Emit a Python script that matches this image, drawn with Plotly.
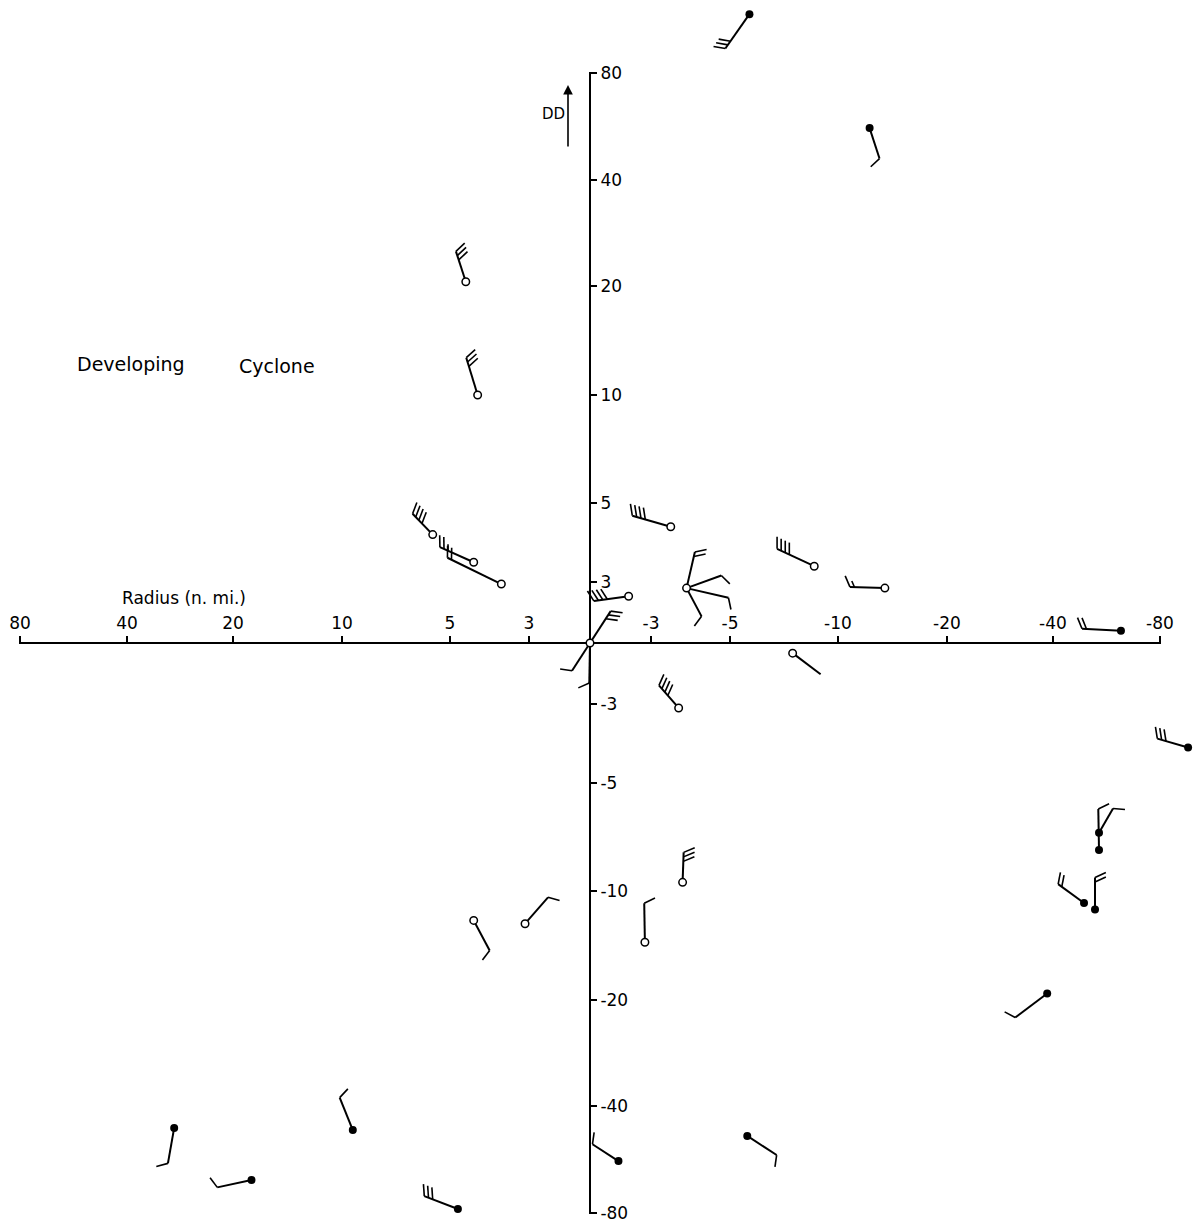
import numpy as np
import plotly.graph_objects as go

# ---------------- scale (stretched, symmetric) ----------------
scale_values = [0, 3, 5, 10, 20, 40, 80]
scale_offsets = [0, 61, 140, 248, 357, 463, 570]

tick_values = [80, 40, 20, 10, 5, 3, -3, -5, -10, -20, -40, -80]
tick_labels = ["80", "40", "20", "10", "5", "3", "-3", "-5", "-10", "-20", "-40", "-80"]

# ---------------- stations ----------------
station_radius = [-5.9, -12.9, 4.6, 4.3, 5.8, 4.4, 3.7, -1.9, 0.0, -3.5, -3.9, -8.9, -14.3,
                  -65.4, -90.5, -57.2, -57.2, -51.6, -55.7, -38.9,
                  4.4, 3.1, -2.7, -3.8, 31.1, 18.3, 9.5, 4.8, -1.4, -5.8, -7.9, -3.7]
station_dd = [102, 59.4, 20.8, 10.0, 4.2, 3.5, 2.9, 2.3, 0.0, 4.4, 2.7, 3.4, 2.7,
              0.6, -4.1, -8.1, -7.3, -11.1, -11.7, -19.4,
              -12.7, -13.0, -14.7, -9.6, -48.2, -67.7, -49.0, -78.5, -60.6, -51.2, -0.5, -3.1]
station_kind = ["filled", "filled", "open", "open", "open", "open", "open", "open", "open",
                "open", "open", "open", "open",
                "filled", "filled", "filled", "filled", "filled", "filled", "filled",
                "open", "open", "open", "open", "filled", "filled", "filled", "filled",
                "filled", "filled", "open", "open"]

# ---------------- winds (one entry per shaft) ----------------
wind_station = [0, 1, 2, 3, 4, 5, 6, 7, 8, 8, 8, 9, 10, 10, 10, 10, 11, 12,
                13, 14, 15, 16, 17, 18, 19, 20, 21, 22, 23, 24, 25, 26, 27, 28, 29, 30, 31]
wind_dir = [215, 162, 342, 343, 316, 294, 296, 262, 33, 213, 181, 286, 13, 70, 103, 152, 295, 272,
            273, 286, 359, 30, 306, 0, 233, 152, 41, 359, 2, 190, 258, 338, 291, 303, 123, 127, 319]
wind_speed = [30, 10, 30, 30, 40, 25, 20, 40, 30, 10, 10, 40, 20, 10, 10, 10, 40, 15,
              20, 30, 10, 10, 20, 20, 10, 10, 10, 10, 30, 10, 10, 10, 30, 10, 10, 0, 40]
shaft_length = [42, 32, 32, 39, 29, 37, 60, 35, 38, 33, 40, 40, 37, 37, 43, 32, 41, 35,
                39, 32, 41, 28, 32, 32, 40, 34, 35, 39, 30, 36, 35, 35, 36, 31, 35, 35, 30]


def to_plot(v):
    a = abs(v)
    if a <= scale_values[-1]:
        d = np.interp(a, scale_values, scale_offsets)
    else:
        d = scale_offsets[-1] + (a - scale_values[-1]) * (scale_offsets[-1] - scale_offsets[-2]) / (scale_values[-1] - scale_values[-2])
    return float(np.sign(v) * d)


W, H = 1201, 1226
ox, oy = 590, 643          # origin inside the figure
half = scale_offsets[-1] + 1

su = [to_plot(r) for r in station_radius]
sv = [to_plot(d) for d in station_dd]

BARB_LEN = 12.0
BARB_GAP = 4.5
TILT = np.radians(25)

shaft_x, shaft_y, barb_x, barb_y = [], [], [], []
for st, th, spd, L in zip(wind_station, wind_dir, wind_speed, shaft_length):
    u0, v0 = su[st], sv[st]
    t = np.radians(th)
    dx, dy = np.sin(t), -np.cos(t)          # screen direction (x right, y down)
    tu, tv = u0 - L * dx, v0 - L * dy       # plot units: u to the left, v upward
    shaft_x += [u0, tu, None]
    shaft_y += [v0, tv, None]
    px, py = np.cos(t), np.sin(t)
    bx = np.cos(TILT) * px + np.sin(TILT) * dx
    by = np.cos(TILT) * py + np.sin(TILT) * dy
    full = int(spd // 10)
    halfb = (spd % 10) >= 5
    n = full + (1 if halfb else 0)
    for i in range(n):
        ln = BARB_LEN if i < full else BARB_LEN * 0.55
        s = L - i * BARB_GAP
        su0 = u0 - s * dx
        sv0 = v0 - s * dy
        barb_x += [su0, su0 - ln * bx, None]
        barb_y += [sv0, sv0 - ln * by, None]

fig = go.Figure()

fig.add_trace(go.Scatter(x=[0], y=[0], xaxis="x", yaxis="y", mode="markers",
                         marker=dict(opacity=0), hoverinfo="skip", showlegend=False))
fig.add_trace(go.Scatter(x=shaft_x, y=shaft_y, xaxis="x2", yaxis="y2", mode="lines",
                         line=dict(color="black", width=2), hoverinfo="skip", showlegend=False))
fig.add_trace(go.Scatter(x=barb_x, y=barb_y, xaxis="x2", yaxis="y2", mode="lines",
                         line=dict(color="black", width=1.6), hoverinfo="skip", showlegend=False))

op = [i for i, k in enumerate(station_kind) if k == "open"]
fl = [i for i, k in enumerate(station_kind) if k == "filled"]
fig.add_trace(go.Scatter(x=[su[i] for i in op], y=[sv[i] for i in op], xaxis="x2", yaxis="y2",
                         mode="markers", cliponaxis=False,
                         marker=dict(symbol="circle", size=7.5, color="white",
                                     line=dict(color="black", width=1.5)),
                         hoverinfo="skip", showlegend=False))
fig.add_trace(go.Scatter(x=[su[i] for i in fl], y=[sv[i] for i in fl], xaxis="x2", yaxis="y2",
                         mode="markers", cliponaxis=False,
                         marker=dict(symbol="circle", size=8, color="black"),
                         hoverinfo="skip", showlegend=False))

FONT = "DejaVu Sans"
axis_common = dict(showgrid=False, zeroline=False, showline=True, linecolor="black", linewidth=2,
                   ticks="outside", ticklen=6, tickwidth=1.5, tickcolor="black", automargin=False,
                   ticklabeloverflow="allow",
                   tickfont=dict(family=FONT, size=17, color="black"), fixedrange=True)

fig.update_layout(
    width=W, height=H, autosize=False,
    margin=dict(l=0, r=0, t=0, b=0, pad=0, autoexpand=False),
    paper_bgcolor="white", plot_bgcolor="rgba(0,0,0,0)",
    xaxis=dict(domain=[(ox - half) / W, (ox + half) / W], range=[half, -half],
               anchor="free", position=(H - oy) / H, side="top",
               tickvals=[to_plot(v) for v in tick_values], ticktext=tick_labels,
               **axis_common),
    yaxis=dict(domain=[(H - oy - half) / H, (H - oy + half) / H], range=[-half, half],
               anchor="free", position=ox / W, side="right",
               tickvals=[to_plot(v) for v in tick_values], ticktext=tick_labels,
               **axis_common),
    xaxis2=dict(domain=[0, 1], range=[ox, ox - W], anchor="y2", visible=False,
                fixedrange=True, automargin=False),
    yaxis2=dict(domain=[0, 1], range=[-(H - oy), oy], anchor="x2", visible=False,
                fixedrange=True, automargin=False),
)


def label(text, x, y, size):
    fig.add_annotation(text=text, x=x / W, y=1 - y / H, xref="paper", yref="paper",
                       showarrow=False, font=dict(family=FONT, size=size, color="black"),
                       xanchor="center", yanchor="middle")


label("Radius (n. mi.)", 184, 598, 17)
label("Developing", 131, 364, 19)
label("Cyclone", 277, 366, 19)
label("DD", 553, 114, 15)

fig.add_annotation(x=568 / W, y=1 - 85 / H, xref="paper", yref="paper",
                   text="", showarrow=True, ax=0, ay=63, axref="pixel", ayref="pixel",
                   arrowhead=2, arrowsize=1.2, arrowwidth=1.6, arrowcolor="black")

fig.write_html("out.html", config={"displayModeBar": False},
               post_script="document.body.style.margin='0';document.body.style.overflow='hidden';")
